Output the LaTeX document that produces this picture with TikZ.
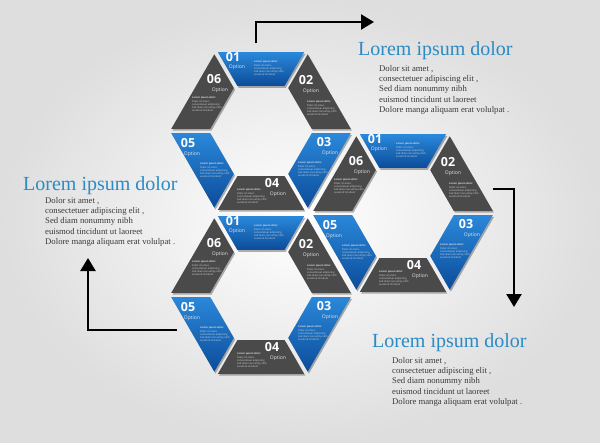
\documentclass[tikz,border=0pt]{standalone}
\usepackage{fontspec}
\setmainfont{Liberation Serif}
\newfontfamily\numfont{Open Sans}
\usetikzlibrary{calc,shadows,arrows.meta}
\definecolor{bluel}{HTML}{2A88DA}
\definecolor{blued}{HTML}{0C4C9A}
\definecolor{segg}{HTML}{4A4A4A}
\definecolor{titleblue}{HTML}{2A8BC5}
\definecolor{bodygray}{HTML}{3A3A3A}
\def\Rout{91}
\def\Rin{52}
\def\Gd{2.4}
\newcommand\hexring[2]{%
  \foreach \k/\a/\cl in {1/240/blue,2/300/gray,3/0/blue,4/60/gray,5/120/blue,6/180/gray}{%
    \pgfmathsetmacro\bb{\a+60}\pgfmathsetmacro\ee{\a+120}\pgfmathsetmacro\ff{\a+300}%
    \path[\cl seg] ($(#1)+(\a:\Rout)+(\ee:\Gd)$) -- ($(#1)+(\bb:\Rout)+(\ff:\Gd)$)
       -- ($(#1)+(\bb:\Rin)+(\ff:\Gd)$) -- ($(#1)+(\a:\Rin)+(\ee:\Gd)$) -- cycle;
  }
  \foreach \k/\nx/\ny/\ox/\oy/\tx/\ty in {1/-28/-73.5/-24/-63.5/-7/-71, 2/45/-50.5/50/-39.5/46/-31, 3/63/11.5/69/22.5/37/30, 4/11/52.5/17/63.5/-24/57, 5/-73/12.5/-69/23.5/-61/31, 6/-47/-51.5/-41/-40.5/-69/-35}{%
    \node[num] (#2n\k) at ($(#1)+(\nx,\ny)$) {0\k};
    \node[opt] (#2o\k) at ($(#1)+(\ox,\oy)$) {Option};
    \node[segtext] (#2t\k) at ($(#1)+(\tx,\ty)$) {{\bfseries Lorem ipsum dolor}\\[1pt]Dolor sit amet ,\\consectetuer adipiscing\\Sed diam nonummy nibh\\euismod tincidunt};
  }
}
\begin{document}
\begin{tikzpicture}[x=1pt,y=-1pt,
  seg/.style={drop shadow={shadow xshift=1.2pt,shadow yshift=-1.8pt,opacity=.3,fill=black}},
  blueseg/.style={seg,top color=bluel,bottom color=blued},
  grayseg/.style={seg,fill=segg},
  num/.style={font=\numfont\bfseries\fontsize{12.5}{12.5}\selectfont,text=white,inner sep=0},
  opt/.style={font=\numfont\fontsize{5}{5}\selectfont,text=white!90!black,inner sep=0},
  segtext/.style={font=\numfont\fontsize{2.5}{3.2}\selectfont,text=white!85!black,align=left,inner sep=0,anchor=north west},
  ttl/.style={font=\fontsize{20}{24}\selectfont,text=titleblue,inner sep=0,anchor=base west},
  body/.style={font=\fontsize{8.7}{10.3}\selectfont,text=bodygray,align=left,inner sep=0,anchor=north west},
  arr/.style={line width=2.4pt,-{Triangle[length=13pt,width=15pt]}}
]
\useasboundingbox (0,0) rectangle (600,442);
\shade[inner color=white,outer color=black!13] (0,0) rectangle (600,442);

\coordinate (H1) at (261,131);
\coordinate (H2) at (403,213);
\coordinate (H3) at (261,295);
\hexring{H1}{ha}
\hexring{H2}{hb}
\hexring{H3}{hc}

% arrows
\coordinate (a1s) at (256,43);
\coordinate (a1e) at (374,22);
\draw[arr] (a1s) |- (a1e);
\coordinate (a2s) at (493,189);
\coordinate (a2e) at (514,307);
\draw[arr] (a2s) -| (a2e);
\coordinate (a3s) at (177,330);
\coordinate (a3e) at (88,258);
\draw[arr] (a3s) -| (a3e);

% text blocks
\node[ttl] (t1) at (358,55) {Lorem ipsum dolor};
\node[body] (b1) at (379,65) {Dolor sit amet ,\\consectetuer adipiscing elit ,\\Sed diam nonummy nibh\\euismod tincidunt ut laoreet\\Dolore manga aliquam erat volulpat .};
\node[ttl] (t2) at (23,190) {Lorem ipsum dolor};
\node[body] (b2) at (45,197) {Dolor sit amet ,\\consectetuer adipiscing elit ,\\Sed diam nonummy nibh\\euismod tincidunt ut laoreet\\Dolore manga aliquam erat volulpat .};
\node[ttl] (t3) at (372,347) {Lorem ipsum dolor};
\node[body] (b3) at (392,357) {Dolor sit amet ,\\consectetuer adipiscing elit ,\\Sed diam nonummy nibh\\euismod tincidunt ut laoreet\\Dolore manga aliquam erat volulpat .};
\end{tikzpicture}
\end{document}
